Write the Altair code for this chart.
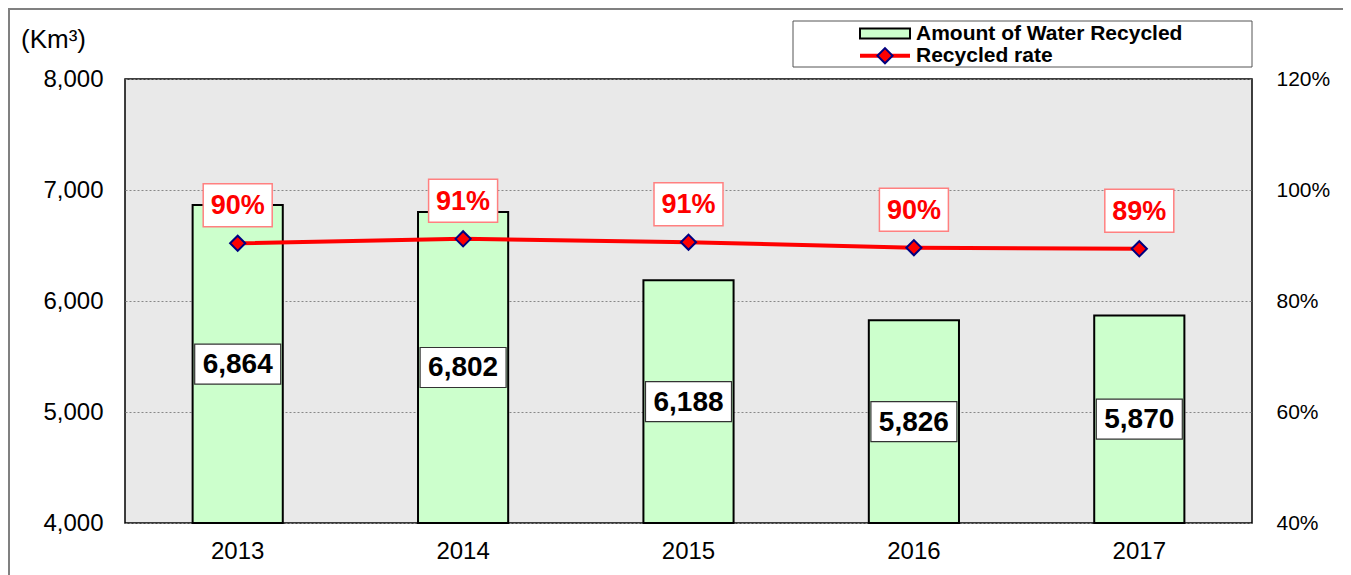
import altair as alt
import pandas as pd

years = ["2013", "2014", "2015", "2016", "2017"]
amount = [6864, 6802, 6188, 5826, 5870]
rate = [90.4, 91.2, 90.6, 89.6, 89.4]

unit_label = "(Km³)"
legend_bar = "Amount of Water Recycled"
legend_line = "Recycled rate"

df = pd.DataFrame({"year": years, "amount": amount, "rate": rate})

SANS = "Liberation Sans, Arial, sans-serif"

W, H = 1127, 444

xenc = alt.X("year:N", title=None, sort=years,
             scale=alt.Scale(paddingInner=0.6, paddingOuter=0.3),
             axis=alt.Axis(labelAngle=0, labelFontSize=24, labelFont=SANS,
                           labelColor="black", labelPadding=16, ticks=False,
                           domain=False))

yleft = alt.Scale(domain=[4000, 8000], zero=False, nice=False)
yright = alt.Scale(domain=[40, 120], zero=False, nice=False)

base = alt.Chart(df)

bars = base.mark_bar(fill="#ccffcc", stroke="black", strokeWidth=2).encode(
    x=xenc,
    y=alt.Y("amount:Q", scale=yleft, title=None,
            axis=alt.Axis(orient="left", values=[4000, 5000, 6000, 7000, 8000],
                          format=",d", labelFontSize=24, labelFont=SANS,
                          labelColor="black", labelPadding=22, ticks=False,
                          domain=False, grid=True, gridColor="#888888",
                          gridDash=[2, 2], gridWidth=1)),
    y2=alt.datum(4000),
)

box_path_bar = "M-1,-0.465L1,-0.465L1,0.465L-1,0.465Z"
bar_boxes = base.transform_calculate(mid="(4000 + datum.amount) / 2").mark_point(
    shape=box_path_bar, size=86 * 86, filled=True, fill="white", opacity=1,
    stroke="#333333", strokeWidth=1.2
).encode(x=xenc, y=alt.Y("mid:Q", scale=yleft, axis=None))

bar_text = base.transform_calculate(mid="(4000 + datum.amount) / 2").mark_text(
    font=SANS, fontSize=28, fontWeight="bold", color="black", baseline="middle", dy=1
).encode(x=xenc, y=alt.Y("mid:Q", scale=yleft, axis=None),
         text=alt.Text("amount:Q", format=",d"))

line = base.mark_line(color="#ff0000", strokeWidth=4).encode(
    x=xenc,
    y=alt.Y("rate:Q", scale=yright, title=None,
            axis=alt.Axis(orient="right", values=[40, 60, 80, 100, 120],
                          labelExpr="datum.value + '%'", labelFontSize=21,
                          labelFont=SANS, labelColor="black", labelPadding=24,
                          ticks=False, domain=False, grid=False)),
)

pts = base.mark_point(shape="diamond", size=230, filled=True, fill="#ff0000",
                      stroke="#000080", strokeWidth=2, opacity=1).encode(
    x=xenc, y=alt.Y("rate:Q", scale=yright, axis=None))

box_path_pct = "M-1,-0.623L1,-0.623L1,0.623L-1,0.623Z"
pct_boxes = base.mark_point(shape=box_path_pct, size=69 * 69, filled=True,
                            fill="white", opacity=1, stroke="#ff8080",
                            strokeWidth=1.5, yOffset=-38).encode(
    x=xenc, y=alt.Y("rate:Q", scale=yright, axis=None))

pct_text = base.transform_calculate(
    lbl="format(datum.rate, '.0f') + '%'"
).mark_text(font=SANS, fontSize=27, fontWeight="bold", color="#ff0000",
            baseline="middle", dy=-37).encode(
    x=xenc, y=alt.Y("rate:Q", scale=yright, axis=None), text="lbl:N")

one = alt.Data(values=[{"a": 1}])

frame = alt.Chart(one).mark_rect(fill=None, stroke="#808080", strokeWidth=2).encode(
    x=alt.value(-116), x2=alt.value(1222), y=alt.value(-70), y2=alt.value(520))

unit = alt.Chart(one).mark_text(font=SANS, fontSize=26, align="left",
                                baseline="middle", color="black").encode(
    x=alt.value(-104), y=alt.value(-39), text=alt.value(unit_label))

leg_box = alt.Chart(one).mark_rect(fill="white", stroke="#555555", strokeWidth=1).encode(
    x=alt.value(668), x2=alt.value(1127), y=alt.value(-58), y2=alt.value(-12))

leg_sw = alt.Chart(one).mark_rect(fill="#ccffcc", stroke="black", strokeWidth=2).encode(
    x=alt.value(735), x2=alt.value(785), y=alt.value(-50.5), y2=alt.value(-40.5))

leg_line = alt.Chart(one).mark_rule(color="#ff0000", strokeWidth=4).encode(
    x=alt.value(735), x2=alt.value(785), y=alt.value(-23.3))

leg_pt = alt.Chart(one).mark_point(shape="diamond", size=230, filled=True,
                                   fill="#ff0000", stroke="#000080",
                                   strokeWidth=2, opacity=1).encode(
    x=alt.value(760), y=alt.value(-23.3))

leg_t1 = alt.Chart(one).mark_text(font=SANS, fontSize=21, fontWeight="bold",
                                  align="left", baseline="middle", color="black").encode(
    x=alt.value(791), y=alt.value(-45.5), text=alt.value(legend_bar))

leg_t2 = alt.Chart(one).mark_text(font=SANS, fontSize=21, fontWeight="bold",
                                  align="left", baseline="middle", color="black").encode(
    x=alt.value(791), y=alt.value(-23), text=alt.value(legend_line))

chart = alt.layer(
    bars, bar_boxes, bar_text, line, pts, pct_boxes, pct_text,
    frame, unit, leg_box, leg_sw, leg_line, leg_pt, leg_t1, leg_t2
).resolve_scale(y="independent").properties(
    width=W, height=H,
    autosize=alt.AutoSizeParams(type="none"),
    padding={"left": 117, "top": 71, "right": 91, "bottom": 60},
).configure_view(fill="#e9e9e9", stroke="black", strokeWidth=1.5)

chart.save("out.html", embed_options={"renderer": "svg", "actions": False})
